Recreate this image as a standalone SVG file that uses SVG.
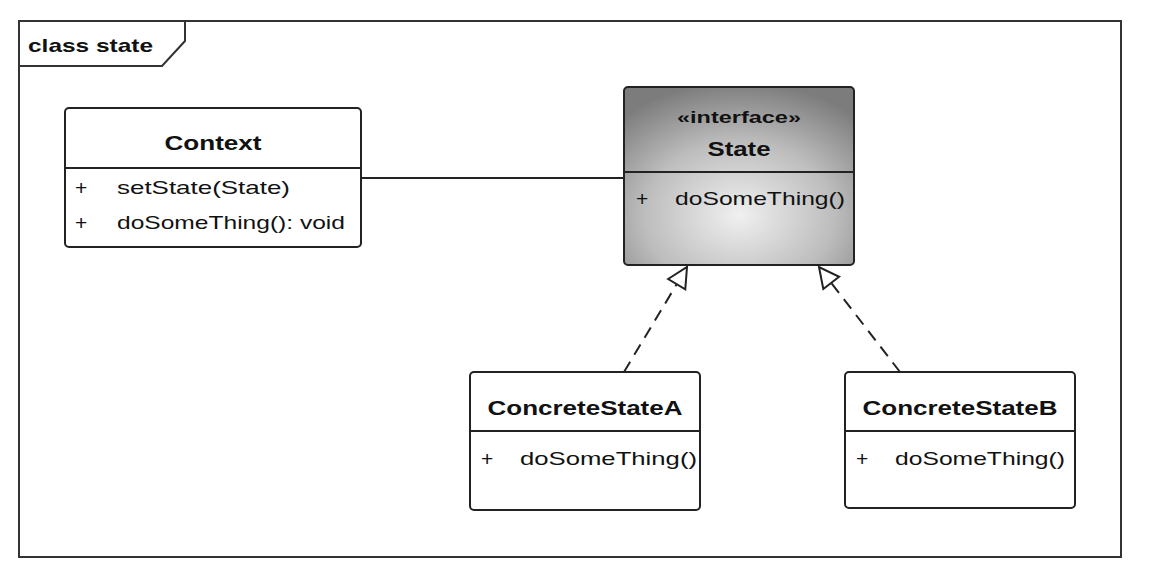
<svg xmlns="http://www.w3.org/2000/svg" width="1174" height="570" viewBox="0 0 1174 570">
<style>
.box{fill:#ffffff;stroke:#222;stroke-width:2}
.div{stroke:#222;stroke-width:2}
.t{font-family:"Liberation Sans",Arial,sans-serif;fill:#111}
.title{font-size:21px;font-weight:bold}
.attr{font-size:19px}
.plus{font-size:21px}
.conn{stroke:#222;stroke-width:2;fill:none}
.dash{stroke-dasharray:12 8}
</style>
<defs>
<radialGradient id="g" cx="0.5" cy="0.72" r="0.75">
<stop offset="0" stop-color="#f0f0f0"/>
<stop offset="0.55" stop-color="#bdbdbd"/>
<stop offset="1" stop-color="#7c7c7c"/>
</radialGradient>
<marker id="tri" viewBox="0 0 24 24" refX="22" refY="12" markerWidth="24" markerHeight="24" markerUnits="userSpaceOnUse" orient="auto">
<path d="M2,2 L22,12 L2,22 Z" fill="#fff" stroke="#222" stroke-width="2"/>
</marker>
</defs>
<rect width="1174" height="570" fill="#ffffff"/>
<g id="frame">
<rect x="19" y="21" width="1102" height="536" fill="none" stroke="#333" stroke-width="2"/>
<path d="M19,66 L162,66 L185,41 L185,21" fill="none" stroke="#333" stroke-width="2"/>
<text class="t" x="28" y="52" font-size="19" font-weight="bold" textLength="125" lengthAdjust="spacingAndGlyphs">class state</text>
</g>
<g id="connectors">
<line class="conn" x1="361" y1="178" x2="624" y2="178"/>
<line class="conn dash" x1="624" y1="372" x2="687" y2="267" marker-end="url(#tri)"/>
<line class="conn dash" x1="900" y1="372" x2="819" y2="267" marker-end="url(#tri)"/>
</g>
<g id="Context">
<rect class="box" x="65" y="108" width="296" height="139" rx="4"/>
<line class="div" x1="65" y1="168" x2="361" y2="168"/>
<text class="t title" x="213" y="150" text-anchor="middle" textLength="97" lengthAdjust="spacingAndGlyphs">Context</text>
<text class="t plus" x="75" y="195">+</text>
<text class="t attr" x="117" y="194" textLength="173" lengthAdjust="spacingAndGlyphs">setState(State)</text>
<text class="t plus" x="75" y="230">+</text>
<text class="t attr" x="117" y="229" textLength="228" lengthAdjust="spacingAndGlyphs">doSomeThing(): void</text>
</g>
<g id="State">
<rect x="624" y="87" width="230" height="178" rx="4" fill="url(#g)" stroke="#222" stroke-width="2"/>
<line class="div" x1="624" y1="172" x2="854" y2="172"/>
<text class="t" x="739" y="123" text-anchor="middle" font-size="16" font-weight="bold" textLength="124" lengthAdjust="spacingAndGlyphs">«interface»</text>
<text class="t title" x="739" y="156" text-anchor="middle" textLength="63" lengthAdjust="spacingAndGlyphs">State</text>
<text class="t plus" x="636" y="206">+</text>
<text class="t attr" x="675" y="205" textLength="170" lengthAdjust="spacingAndGlyphs">doSomeThing()</text>
</g>
<g id="ConcreteStateA">
<rect class="box" x="470" y="372" width="230" height="138" rx="4"/>
<line class="div" x1="470" y1="431" x2="700" y2="431"/>
<text class="t title" x="585" y="415" text-anchor="middle" textLength="195" lengthAdjust="spacingAndGlyphs">ConcreteStateA</text>
<text class="t plus" x="481" y="466">+</text>
<text class="t attr" x="520" y="465" textLength="177" lengthAdjust="spacingAndGlyphs">doSomeThing()</text>
</g>
<g id="ConcreteStateB">
<rect class="box" x="845" y="372" width="230" height="136" rx="4"/>
<line class="div" x1="845" y1="431" x2="1075" y2="431"/>
<text class="t title" x="960" y="415" text-anchor="middle" textLength="195" lengthAdjust="spacingAndGlyphs">ConcreteStateB</text>
<text class="t plus" x="856" y="466">+</text>
<text class="t attr" x="895" y="465" textLength="170" lengthAdjust="spacingAndGlyphs">doSomeThing()</text>
</g>
</svg>
